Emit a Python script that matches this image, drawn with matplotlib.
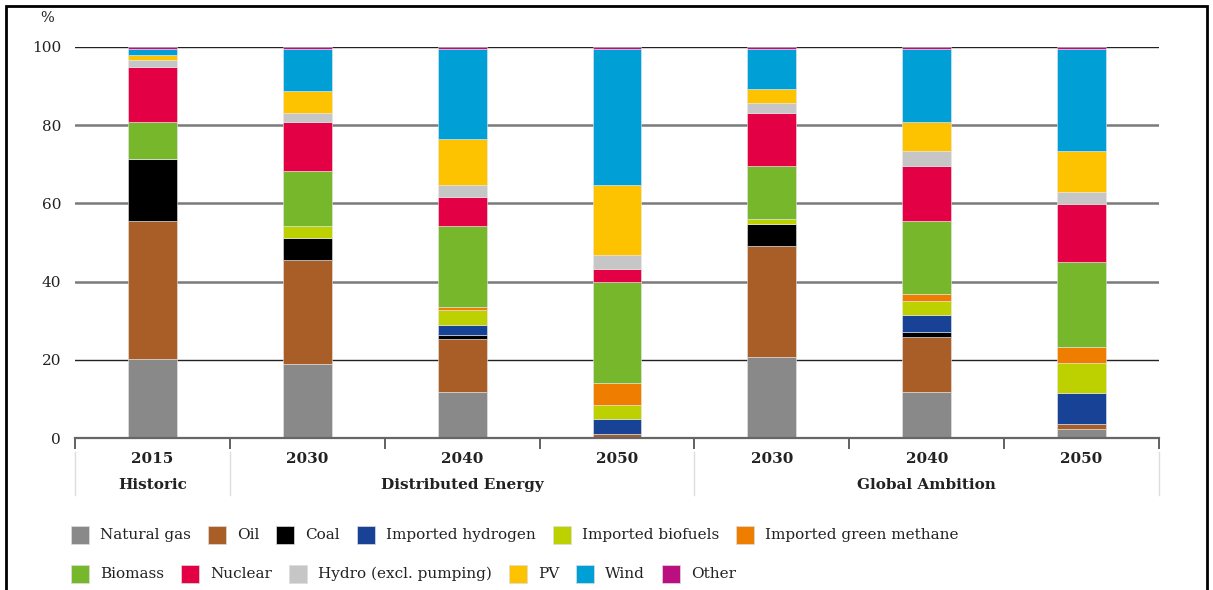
import numpy as np
import matplotlib.pyplot as plt
from matplotlib.patches import Rectangle
import matplotlib.transforms as mtransforms

# --- data (share of final energy, %) ---
years = ['2015', '2030', '2040', '2050', '2030', '2040', '2050']
groups = ['Historic', 'Distributed Energy', 'Global Ambition']
group_bars = [[0], [1, 2, 3], [4, 5, 6]]

natural_gas = [20.2, 19.0, 11.7, 0.0, 20.8, 11.7, 2.3]
oil = [35.4, 26.6, 13.5, 1.0, 28.4, 14.1, 1.3]
coal = [15.8, 5.5, 1.2, 0.0, 5.6, 1.2, 0.0]
imported_hydrogen = [0.0, 0.0, 2.4, 3.9, 0.0, 4.4, 8.0]
imported_biofuels = [0.0, 3.2, 3.9, 3.6, 1.3, 3.7, 7.5]
imported_green_methane = [0.0, 0.0, 0.7, 5.5, 0.0, 1.8, 4.3]
biomass = [9.3, 14.1, 20.8, 26.0, 13.5, 18.6, 21.6]
nuclear = [14.2, 12.3, 7.4, 3.1, 13.5, 14.1, 14.8]
hydro = [1.9, 2.5, 3.0, 3.7, 2.6, 3.7, 3.0]
pv = [1.2, 5.6, 11.9, 17.9, 3.6, 7.4, 10.6]
wind = [1.4, 10.6, 22.9, 34.7, 10.1, 18.7, 26.0]
other = [0.6, 0.6, 0.6, 0.6, 0.6, 0.6, 0.6]

series = [
    ('Natural gas', natural_gas, '#898989'),
    ('Oil', oil, '#a85e26'),
    ('Coal', coal, '#000000'),
    ('Imported hydrogen', imported_hydrogen, '#184295'),
    ('Imported biofuels', imported_biofuels, '#bdd000'),
    ('Imported green methane', imported_green_methane, '#ef7d00'),
    ('Biomass', biomass, '#77b72b'),
    ('Nuclear', nuclear, '#e30045'),
    ('Hydro (excl. pumping)', hydro, '#c6c6c6'),
    ('PV', pv, '#fdc300'),
    ('Wind', wind, '#009fd6'),
    ('Other', other, '#bb0f80'),
]
legend_rows = [series[:6], series[6:]]

plt.rcParams['font.family'] = ['DejaVu Serif']

W, H = 1213, 590
fig = plt.figure(figsize=(W / 100, H / 100), dpi=100)
ax = fig.add_axes([75 / W, 1 - 438 / H, (1159 - 75) / W, (438 - 47) / H])

# grid lines (drawn behind bars)
for v in [20, 40, 60, 80, 100]:
    if v in (20, 100):
        ax.axhline(v, color='#222222', lw=1.0, zorder=0)
    else:
        ax.axhline(v, color='#7a7a7a', lw=1.8, zorder=0)

x = np.arange(len(years))
bottom = np.zeros(len(years))
for name, vals, col in series:
    vals = np.array(vals)
    ax.bar(x, vals, width=0.315, bottom=bottom, color=col,
           edgecolor='#e8e8e8', linewidth=0.4, zorder=2)
    bottom += vals

ax.set_xlim(-0.5, len(years) - 0.5)
ax.set_ylim(0, 100)
for s in ['top', 'right', 'left']:
    ax.spines[s].set_visible(False)
ax.spines['bottom'].set_color('#666666')
ax.spines['bottom'].set_linewidth(1.6)

ax.set_yticks([0, 20, 40, 60, 80, 100])
ax.tick_params(axis='y', length=0, pad=10, labelsize=11, colors='#222222')
ax.set_xticks(np.arange(-0.5, len(years), 1.0))
ax.set_xticklabels([])
ax.tick_params(axis='x', length=8, width=1.3, color='#555555', direction='out')

trans = mtransforms.blended_transform_factory(ax.transData, ax.transAxes)
for i, yr in enumerate(years):
    ax.text(i, -0.054, yr, transform=trans, ha='center', va='center',
            fontsize=11, fontweight='bold', color='#222222')
for g, idx in zip(groups, group_bars):
    ax.text(np.mean(idx), -0.12, g, transform=trans, ha='center', va='center',
            fontsize=11, fontweight='bold', color='#222222')
for b in [-0.5, 0.5, 3.5, 6.5]:
    ax.plot([b, b], [-0.036, -0.146], transform=trans, color='#dddddd',
            lw=1.0, clip_on=False)

fig.text(47 / W, 1 - 18 / H, '%', fontsize=10.5, ha='center', va='center', color='#222222')

# outer frame
fig.patches.append(Rectangle((6 / W, -0.02), (1207 - 6) / W, 1.02 - 6 / H,
                             transform=fig.transFigure, fill=False,
                             edgecolor='black', lw=2))

# legend drawn as two flowing rows
fig.canvas.draw()
renderer = fig.canvas.get_renderer()
sq = 18
for row, yc in zip(legend_rows, [535, 574]):
    xpos = 71
    for name, vals, col in row:
        fig.patches.append(Rectangle((xpos / W, (H - yc - sq / 2) / H), sq / W, sq / H,
                                     transform=fig.transFigure, facecolor=col,
                                     edgecolor='#dddddd', lw=0.5))
        t = fig.text((xpos + sq + 11) / W, (H - yc) / H, name, fontsize=11,
                     va='center', ha='left', color='#222222')
        bb = t.get_window_extent(renderer)
        xpos = bb.x1 + 17

fig.savefig('out.png', dpi=100)
